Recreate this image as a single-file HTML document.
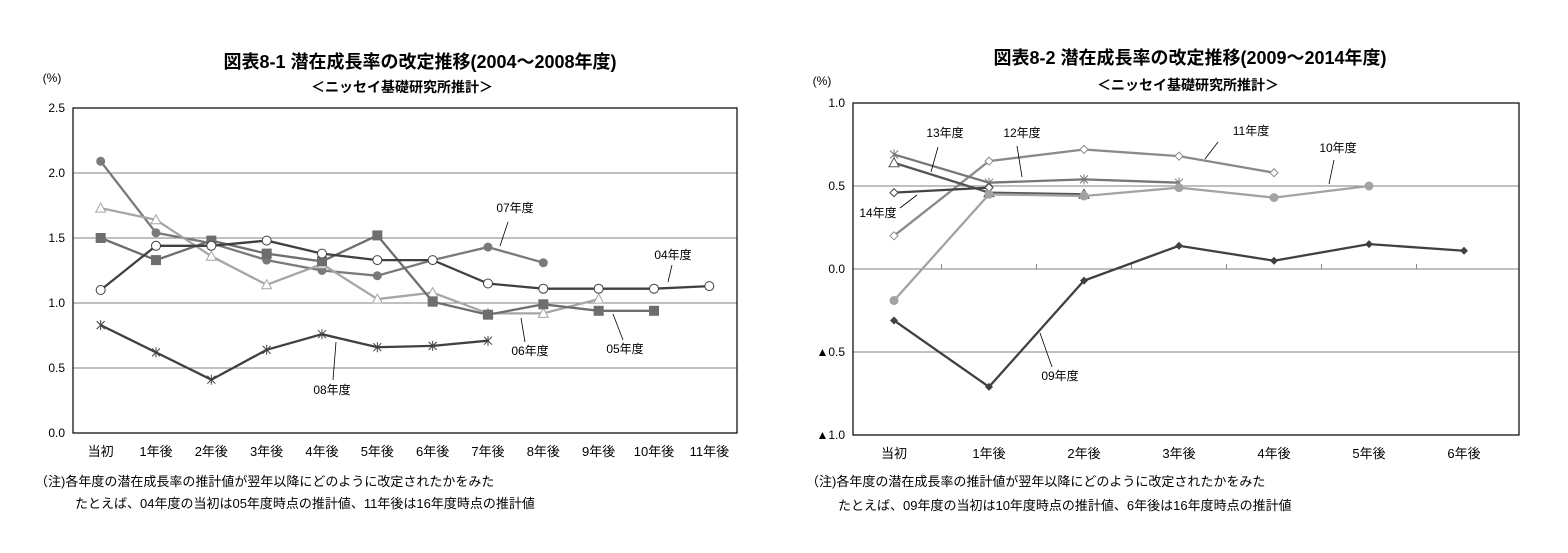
<!DOCTYPE html>
<html><head><meta charset="utf-8">
<style>
body{margin:0;background:#fff;width:1568px;height:548px;overflow:hidden}
svg{font-family:"Liberation Sans","Noto Sans CJK JP",sans-serif}
</style></head>
<body>
<svg id="svg" width="1568" height="548" viewBox="0 0 1568 548">
<g>
<text x="420" y="68" font-size="18" font-weight="bold" text-anchor="middle">図表8-1 潜在成長率の改定推移(2004～2008年度)</text>
<text x="402" y="92" font-size="14" font-weight="bold" text-anchor="middle">＜ニッセイ基礎研究所推計＞</text>
<text x="52" y="82" font-size="12" text-anchor="middle">(%)</text>
<g id="L"></g>
<text x="35" y="486" font-size="13">（注)各年度の潜在成長率の推計値が翌年以降にどのように改定されたかをみた</text>
<text x="75" y="508" font-size="13">たとえば、04年度の当初は05年度時点の推計値、11年後は16年度時点の推計値</text>
</g>
<g>
<text x="1190" y="64" font-size="18" font-weight="bold" text-anchor="middle">図表8-2 潜在成長率の改定推移(2009～2014年度)</text>
<text x="1188" y="90" font-size="14" font-weight="bold" text-anchor="middle">＜ニッセイ基礎研究所推計＞</text>
<text x="822" y="85" font-size="12" text-anchor="middle">(%)</text>
<g id="R"></g>
<text x="806" y="486" font-size="13">（注)各年度の潜在成長率の推計値が翌年以降にどのように改定されたかをみた</text>
<text x="838" y="510" font-size="13">たとえば、09年度の当初は10年度時点の推計値、6年後は16年度時点の推計値</text>
</g>
</svg>
<script>
const leftCategories=["当初","1年後","2年後","3年後","4年後","5年後","6年後","7年後","8年後","9年後","10年後","11年後"];
const leftTicks=[0,0.5,1,1.5,2,2.5];
const leftTickLabels=["0.0","0.5","1.0","1.5","2.0","2.5"];
const s04=[1.10,1.44,1.44,1.48,1.38,1.33,1.33,1.15,1.11,1.11,1.11,1.13];
const s05=[1.50,1.33,1.48,1.38,1.32,1.52,1.01,0.91,0.99,0.94,0.94];
const s06=[1.73,1.64,1.36,1.14,1.30,1.03,1.08,0.92,0.92,1.03];
const s07=[2.09,1.54,1.46,1.33,1.25,1.21,1.33,1.43,1.31];
const s08=[0.83,0.62,0.41,0.64,0.76,0.66,0.67,0.71];

const rightCategories=["当初","1年後","2年後","3年後","4年後","5年後","6年後"];
const rightTicks=[-1,-0.5,0,0.5,1];
const rightTickLabels=["▲1.0","▲0.5","0.0","0.5","1.0"];
const s09=[-0.31,-0.71,-0.07,0.14,0.05,0.15,0.11];
const s10=[-0.19,0.45,0.44,0.49,0.43,0.50];
const s11=[0.20,0.65,0.72,0.68,0.58];
const s12=[0.69,0.52,0.54,0.52];
const s13=[0.64,0.46,0.45];
const s14=[0.46,0.49];

const NS="http://www.w3.org/2000/svg";
function mk(p,tag,a){const e=document.createElementNS(NS,tag);for(const k in a)e.setAttribute(k,a[k]);p.appendChild(e);return e;}

function marker(g,type,x,y,col){
  let e;
  if(type==="circleOpen")e=mk(g,"circle",{cx:x,cy:y,r:4.5,fill:"#fff",stroke:col,"stroke-width":1});
  else if(type==="circle")e=mk(g,"circle",{cx:x,cy:y,r:4.5,fill:col});
  else if(type==="square")e=mk(g,"rect",{x:x-5,y:y-5,width:10,height:10,fill:col});
  else if(type==="tri")e=mk(g,"path",{d:`M${x},${y-5}L${x+5},${y+4}L${x-5},${y+4}Z`,fill:"#fff",stroke:col,"stroke-width":1});
  else if(type==="star")e=mk(g,"path",{d:`M${x-4},${y-4}L${x+4},${y+4}M${x+4},${y-4}L${x-4},${y+4}M${x},${y-5}L${x},${y+5}`,stroke:col,"stroke-width":1,fill:"none"});
  else if(type==="diamond")e=mk(g,"path",{d:`M${x},${y-4}L${x+4},${y}L${x},${y+4}L${x-4},${y}Z`,fill:col});
  else if(type==="diamondOpen")e=mk(g,"path",{d:`M${x},${y-4}L${x+4},${y}L${x},${y+4}L${x-4},${y}Z`,fill:"#fff",stroke:col,"stroke-width":1});
  
  
}

function chart(g,cfg){
  const {left,right,top,bottom,ymin,ymax,cats,ticks,labels}=cfg;
  const bw=cfg.bw||(right-left)/cats.length;
  const x0=cfg.x0||left+bw/2;
  const X=i=>x0+bw*i;
  const Y=v=>bottom-(v-ymin)/(ymax-ymin)*(bottom-top);
  ticks.forEach((t,i)=>{
    if(t!==ymin&&t!==ymax){const l=mk(g,"line",{x1:left,x2:right,y1:Y(t),y2:Y(t),stroke:"#808080","stroke-width":1});
      
      }
    const tx=mk(g,"text",{x:left-8,y:Y(t)+4,"font-size":12,"text-anchor":"end"});tx.textContent=labels[i];
    
    
  });
  if(cfg.zeroTicks){for(let i=1;i<cats.length;i++){const tk=mk(g,"line",{x1:X(i)-bw/2,x2:X(i)-bw/2,y1:Y(0),y2:Y(0)-5,stroke:"#888"});
    
    }}
  const fr=mk(g,"rect",{x:left,y:top,width:right-left,height:bottom-top,fill:"none",stroke:"#000","stroke-width":1.2});
  
  
  cats.forEach((c,i)=>{const t=mk(g,"text",{x:X(i),y:bottom+23,"font-size":13,"text-anchor":"middle"});t.textContent=c;
    
    });
  cfg.series.forEach(s=>{
    const sg=mk(g,"g",{});
    
    
    const pl=mk(sg,"polyline",{points:s.data.map((v,i)=>X(i)+","+Y(v)).join(" "),fill:"none",stroke:s.col,"stroke-width":2.3});
    
    
    s.data.forEach((v,i)=>marker(sg,s.m,X(i),Y(v),s.mc||s.col));
  });
  cfg.notes.forEach(n=>{
    const l=mk(g,"line",{x1:n[2],y1:n[3],x2:n[4],y2:n[5],stroke:"#000","stroke-width":0.8});
    
    
    const t=mk(g,"text",{x:n[0],y:n[1],"font-size":12,"text-anchor":"middle"});t.textContent=n[6];
    
    
  });
}

chart(document.getElementById("L"),{left:73,right:737,top:108,bottom:433,ymin:0,ymax:2.5,cats:leftCategories,ticks:leftTicks,labels:leftTickLabels,
 series:[
  {name:"07",data:s07,col:"#7a7a7a",m:"circle"},
  {name:"06",data:s06,col:"#a6a6a6",m:"tri"},
  {name:"05",data:s05,col:"#6e6e6e",m:"square"},
  {name:"04",data:s04,col:"#404040",m:"circleOpen"},
  {name:"08",data:s08,col:"#404040",m:"star"}],
 notes:[[515,212,508,222,500,246,"07年度"],[673,259,672,265,668,282,"04年度"],[530,355,525,342,521,318,"06年度"],[625,353,623,340,613,314,"05年度"],[332,394,333,380,336,342,"08年度"]]});

chart(document.getElementById("R"),{left:853,right:1519,top:103,bottom:435,ymin:-1,ymax:1,cats:rightCategories,ticks:rightTicks,labels:rightTickLabels,zeroTicks:true,x0:894,bw:95,
 series:[
  {name:"11",data:s11,col:"#8a8a8a",m:"diamondOpen"},
  {name:"12",data:s12,col:"#777",m:"star"},
  {name:"13",data:s13,col:"#555",m:"tri"},
  {name:"14",data:s14,col:"#444",m:"diamondOpen"},
  {name:"10",data:s10,col:"#a3a3a3",m:"circle"},
  {name:"09",data:s09,col:"#404040",m:"diamond"}],
 notes:[[945,137,938,147,931,172,"13年度"],[1022,137,1017,146,1022,177,"12年度"],[1251,135,1218,142,1205,159,"11年度"],[1338,152,1334,160,1329,184,"10年度"],[878,217,900,208,917,195,"14年度"],[1060,380,1052,367,1040,333,"09年度"]]});
</script>
</body></html>
